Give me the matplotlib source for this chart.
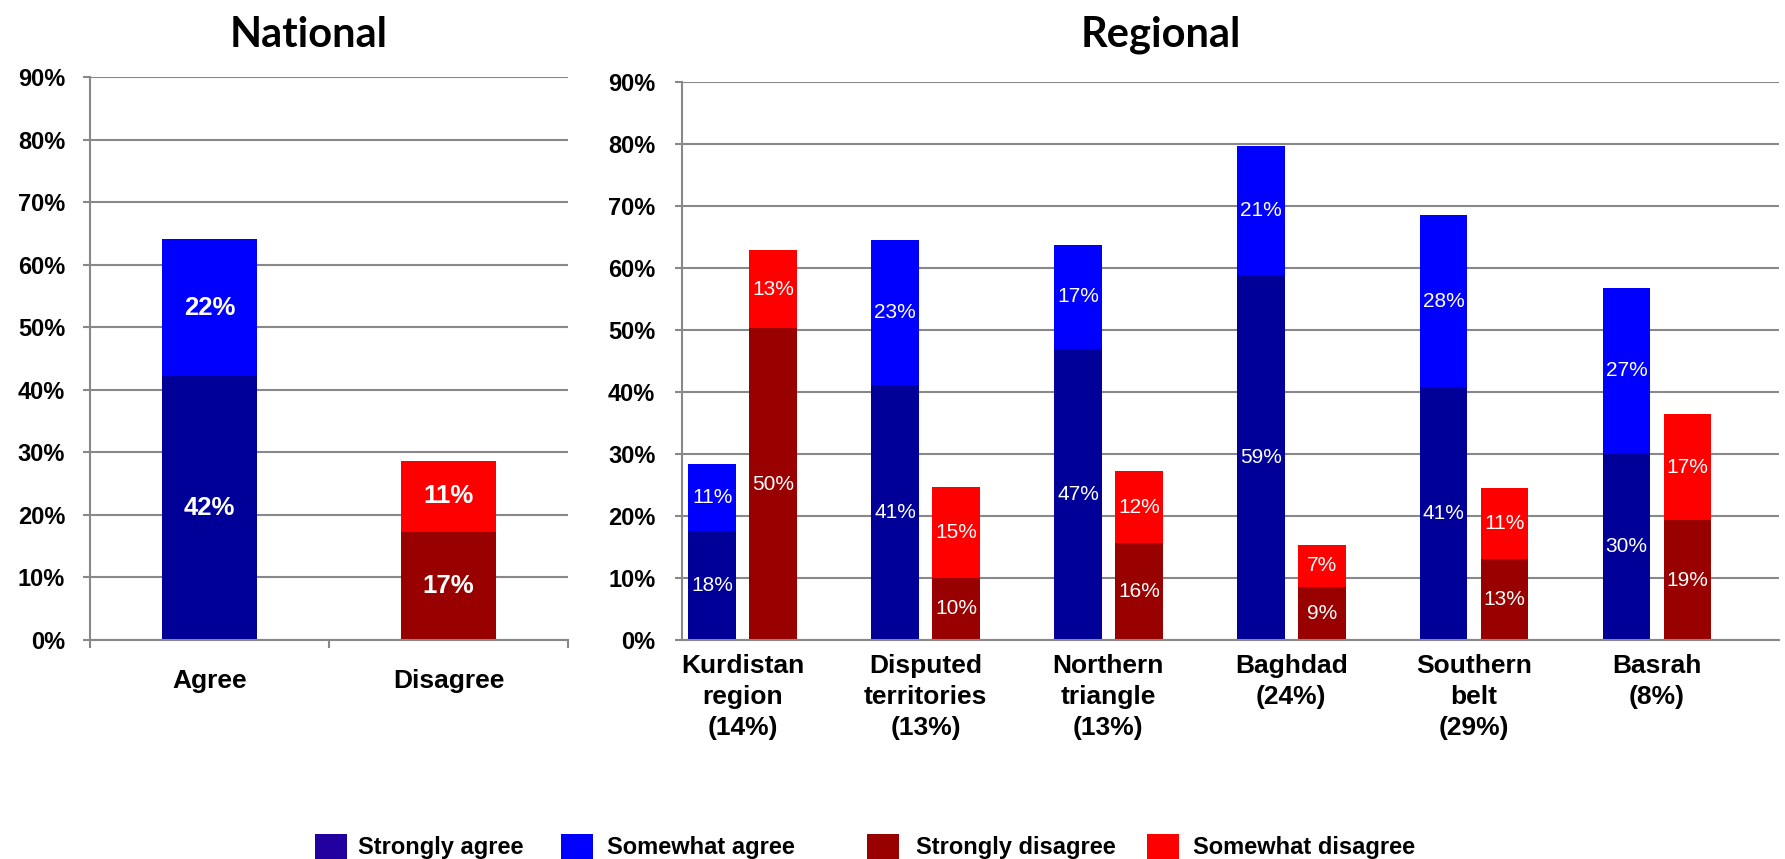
import matplotlib
matplotlib.use("Agg")
import matplotlib.pyplot as plt
from matplotlib.patches import Rectangle
import numpy as np

plt.rcParams['font.family'] = ['Liberation Sans', 'DejaVu Sans']

# ---------------- data ----------------
national_cats = ['Agree', 'Disagree']
national_strong = [42.2, 17.3]     # Strongly agree / Strongly disagree
national_somewhat = [21.9, 11.3]   # Somewhat agree / Somewhat disagree

regions = ['Kurdistan\nregion\n(14%)', 'Disputed\nterritories\n(13%)',
           'Northern\ntriangle\n(13%)', 'Baghdad\n(24%)',
           'Southern\nbelt\n(29%)', 'Basrah\n(8%)']
strongly_agree = [17.6, 41.2, 47.0, 58.9, 40.8, 30.0]
somewhat_agree = [10.8, 23.3, 16.7, 20.8, 27.7, 26.8]
strongly_disagree = [50.3, 10.0, 15.6, 8.6, 13.1, 19.3]
somewhat_disagree = [12.6, 14.6, 11.7, 6.8, 11.4, 17.2]

yticks = list(range(0, 100, 10))
legend_labels = ['Strongly agree', 'Somewhat agree', 'Strongly disagree', 'Somewhat disagree']

# ---------------- style ----------------
C_DBLUE = '#000099'
C_BLUE = '#0000FF'
C_DRED = '#990000'
C_RED = '#FF0000'
C_LEG_DBLUE = '#2200A0'
GRID = '#888888'

W, H = 1785, 859
fig = plt.figure(figsize=(W / 100, H / 100), dpi=100)
ax1 = fig.add_axes([90 / W, 219 / H, 478 / W, 563 / H])
ax2 = fig.add_axes([681.7 / W, 219 / H, 1097.3 / W, 558 / H])


def style(ax, pad):
    ax.set_ylim(0, 90)
    ax.set_yticks(yticks)
    ax.set_yticklabels([f"{t}%" for t in yticks], fontsize=17, fontweight='bold')
    ax.yaxis.grid(True, color=GRID, lw=1.5)
    ax.set_axisbelow(True)
    for s in ['top', 'right']:
        ax.spines[s].set_visible(False)
    for s in ['left', 'bottom']:
        ax.spines[s].set_color(GRID)
        ax.spines[s].set_linewidth(1.5)
    ax.tick_params(axis='y', length=5, width=1.5, color=GRID, pad=pad)


# ---------------- national ----------------
style(ax1, 13)
xn = np.arange(len(national_cats))
b1 = ax1.bar(xn, national_strong, width=0.4, color=[C_DBLUE, C_DRED])
b2 = ax1.bar(xn, national_somewhat, width=0.4, bottom=national_strong, color=[C_BLUE, C_RED])
for c, vals in [(b1, national_strong), (b2, national_somewhat)]:
    ax1.bar_label(c, labels=[f"{v:.0f}%" for v in vals], label_type='center',
                  color='white', fontsize=18.5, fontweight='bold')
ax1.set_xlim(-0.5, 1.5)
ax1.set_xticks(xn)
ax1.set_xticklabels(national_cats, fontsize=19, fontweight='bold')
ax1.set_xticks([-0.5, 0.5, 1.5], minor=True)
ax1.tick_params(axis='x', which='major', length=0, pad=21)
ax1.tick_params(axis='x', which='minor', length=6, width=1.5, color=GRID)

# ---------------- regional ----------------
style(ax2, 14)
xr = np.arange(len(regions))
w = 0.26
r1 = ax2.bar(xr - 1 / 3, strongly_agree, width=w, color=C_DBLUE)
r2 = ax2.bar(xr - 1 / 3, somewhat_agree, width=w, bottom=strongly_agree, color=C_BLUE)
r3 = ax2.bar(xr, strongly_disagree, width=w, color=C_DRED)
r4 = ax2.bar(xr, somewhat_disagree, width=w, bottom=strongly_disagree, color=C_RED)
for c, vals in [(r1, strongly_agree), (r2, somewhat_agree), (r3, strongly_disagree), (r4, somewhat_disagree)]:
    ax2.bar_label(c, labels=[f"{v:.0f}%" for v in vals], label_type='center',
                  color='white', fontsize=15)
ax2.set_xlim(-0.5, len(regions) - 0.5)
ax2.set_xticks(xr - 1 / 6)
ax2.set_xticklabels(regions, fontsize=19, fontweight='bold', linespacing=1.37)
ax2.tick_params(axis='x', length=0, pad=10)

# ---------------- titles ----------------
fig.text(308.5 / W, 1 - 47 / H, 'National', ha='center', va='baseline',
         fontsize=30, fontweight='bold', family=['Lato', 'DejaVu Sans'])
fig.text(1161 / W, 1 - 47 / H, 'Regional', ha='center', va='baseline',
         fontsize=30, fontweight='bold', family=['Lato', 'DejaVu Sans'])

# ---------------- legend ----------------
leg_colors = [C_LEG_DBLUE, C_BLUE, C_DRED, C_RED]
patch_x = [315, 561, 867, 1147]
text_x = [358, 607, 916, 1193]
for px, tx, col, lab in zip(patch_x, text_x, leg_colors, legend_labels):
    fig.add_artist(Rectangle((px / W, 0), 32 / W, 25 / H, transform=fig.transFigure,
                             color=col, lw=0))
    fig.text(tx / W, 1 - 854 / H, lab, ha='left', va='baseline',
             fontsize=17, fontweight='bold')

fig.savefig('out.png', dpi=100)
